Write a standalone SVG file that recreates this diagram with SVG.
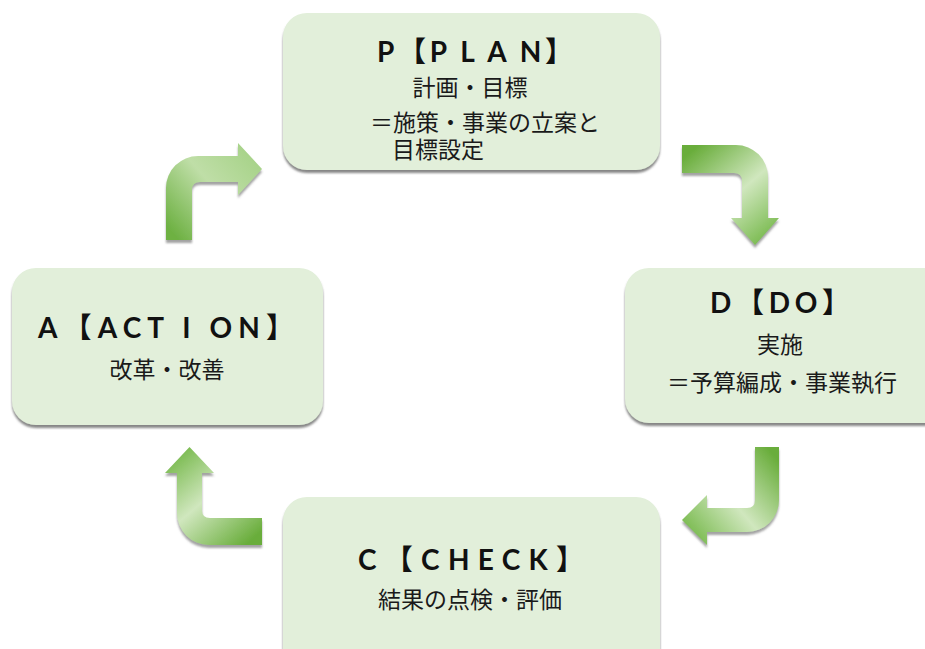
<svg xmlns="http://www.w3.org/2000/svg" width="925" height="649" viewBox="0 0 925 649">
<defs>
<style>
.box{fill:#e2efda;filter:url(#sh);}
.ttl{font-family:"Lato","Liberation Sans","Noto Sans CJK JP",sans-serif;font-weight:700;font-size:28px;fill:#111;}
.txt{font-family:"Noto Sans CJK JP","Noto Sans",sans-serif;font-size:23px;fill:#1a1a1a;}
.arr{filter:url(#ash);}
</style>
<filter id="sh" x="-10%" y="-10%" width="120%" height="130%">
<feDropShadow dx="0" dy="3" stdDeviation="1.2" flood-color="#555" flood-opacity="0.7"/>
</filter>
<filter id="ash" x="-20%" y="-20%" width="140%" height="140%">
<feDropShadow dx="0" dy="3" stdDeviation="1" flood-color="#666" flood-opacity="0.6"/>
</filter>
<linearGradient id="g1" gradientUnits="userSpaceOnUse" x1="179" y1="240" x2="262" y2="168">
<stop offset="0" stop-color="#6eb143"/><stop offset="0.55" stop-color="#bfdea7"/><stop offset="1" stop-color="#a8d38a"/>
</linearGradient>
<linearGradient id="g2" gradientUnits="userSpaceOnUse" x1="682" y1="159" x2="755" y2="245">
<stop offset="0" stop-color="#69ad3b"/><stop offset="0.55" stop-color="#d0e7be"/><stop offset="1" stop-color="#7fbd56"/>
</linearGradient>
<linearGradient id="g3" gradientUnits="userSpaceOnUse" x1="767" y1="447" x2="682" y2="520">
<stop offset="0" stop-color="#69ad3b"/><stop offset="0.55" stop-color="#d0e7be"/><stop offset="1" stop-color="#7fbd56"/>
</linearGradient>
<linearGradient id="g4" gradientUnits="userSpaceOnUse" x1="262" y1="531" x2="190" y2="447">
<stop offset="0" stop-color="#69ad3b"/><stop offset="0.55" stop-color="#d0e7be"/><stop offset="1" stop-color="#7fbd56"/>
</linearGradient>
</defs>
<rect width="925" height="649" fill="#fff"/>

<g id="connectors">
<path class="arr" fill="url(#g1)" d="M166,240 L166,188 A32,32 0 0 1 198,156 L238,156 L238,143 L262,169 L238,195 L238,182 L200,182 Q192,182 192,190 L192,240 Z"/>
<path class="arr" fill="url(#g2)" d="M682,145 L736,145 A32,32 0 0 1 768,177 L768,218 L779,218 L755,245 L731,218 L742,218 L742,181 Q742,173 734,173 L682,173 Z"/>
<path class="arr" fill="url(#g3)" d="M755,447 L779,447 L779,500 A32,32 0 0 1 747,532 L707,532 L707,545 L682,520 L707,495 L707,508 L747,508 Q755,508 755,500 Z"/>
<path class="arr" fill="url(#g4)" d="M262,518 L262,545 L209,545 A32,32 0 0 1 177,513 L177,473 L165,473 L189.5,447 L214,473 L202,473 L202,510 Q202,518 210,518 Z"/>
</g>

<g id="plan">
<rect class="box" x="283" y="13" width="377" height="157" rx="24"/>
<text class="ttl" x="377" y="62" textLength="196" lengthAdjust="spacing">P【P L A N】</text>
<text class="txt" x="470" y="96" text-anchor="middle">計画・目標</text>
<text class="txt" x="370" y="131">＝施策・事業の立案と</text>
<text class="txt" x="392" y="158">目標設定</text>
</g>

<g id="do">
<rect class="box" x="625" y="268" width="330" height="155" rx="24"/>
<text class="ttl" x="710" y="313" textLength="140" lengthAdjust="spacing">D【DO】</text>
<text class="txt" x="780" y="353" text-anchor="middle">実施</text>
<text class="txt" x="667" y="391">＝予算編成・事業執行</text>
</g>

<g id="action">
<rect class="box" x="12" y="268" width="311" height="157" rx="24"/>
<text class="ttl" x="38" y="338" textLength="256" lengthAdjust="spacing">A【ACT I ON】</text>
<text class="txt" x="167" y="378" text-anchor="middle">改革・改善</text>
</g>

<g id="check">
<rect class="box" x="283" y="497" width="377" height="175" rx="24"/>
<text class="ttl" x="358" y="570" textLength="226" lengthAdjust="spacing">C【CHECK】</text>
<text class="txt" x="470" y="608" text-anchor="middle">結果の点検・評価</text>
</g>
</svg>
